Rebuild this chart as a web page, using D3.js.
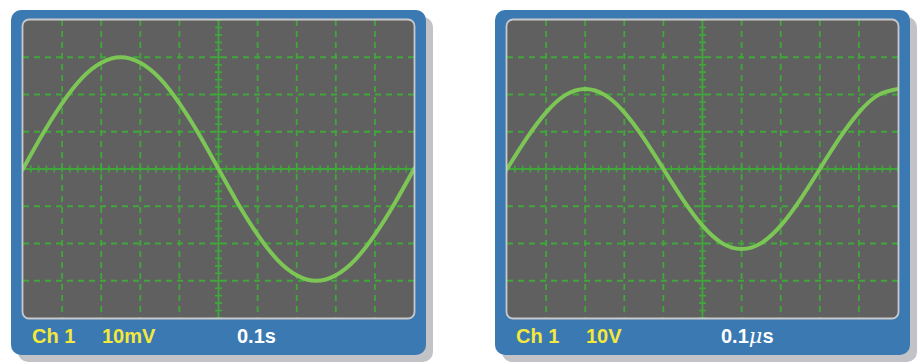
<!DOCTYPE html>
<html><head><meta charset="utf-8">
<script src="https://cdn.jsdelivr.net/npm/d3@7"></script>
<style>html,body{margin:0;padding:0;background:#fff;}svg{display:block;}</style>
</head><body>
<svg id="c" width="918" height="364"></svg>
<script>
// ---- data ----
const xDivisions = [0,1,2,3,4,5,6,7,8,9,10];
const yDivisions = [-4,-3,-2,-1,0,1,2,3,4];
const sampleX = [0,0.5,1,1.5,2,2.5,3,3.5,4,4.5,5,5.5,6,6.5,7,7.5,8,8.5,9,9.5,10];
const leftWave = [0,0.93,1.76,2.43,2.85,3.00,2.85,2.43,1.76,0.93,0,-0.93,-1.76,-2.43,-2.85,-3.00,-2.85,-2.43,-1.76,-0.93,0];
const rightWave = [0,0.82,1.52,1.99,2.15,1.99,1.52,0.82,0,-0.82,-1.52,-1.99,-2.15,-1.99,-1.52,-0.82,0,0.82,1.52,1.99,2.15];
const channelLabels = ["Ch 1","Ch 1"];
const voltLabels = ["10mV","10V"];
const timeLabels = [["0.1","","s"],["0.1","\u03BC","s"]];

// ---- layout ----
const svg = d3.select("#c");
const panelW = 415, panelH = 345, scrX = 12, scrY = 10, scrW = 391, scrH = 298;
const panels = [
  {x:11, y:10, wave:leftWave, ch:channelLabels[0], v:voltLabels[0], t:timeLabels[0]},
  {x:495, y:10, wave:rightWave, ch:channelLabels[1], v:voltLabels[1], t:timeLabels[1]}
];
const x = d3.scaleLinear().domain([0,10]).range([0,scrW]);
const y = d3.scaleLinear().domain([-4,4]).range([scrH,0]);
const gridColor = "#40a83a";
const tickStep = 0.2;
const minorX = d3.range(0, 10.001, tickStep);
const minorY = d3.range(-4, 4.001, tickStep);

panels.forEach((p,i)=>{
  const g = svg.append("g").attr("transform",`translate(${p.x},${p.y})`);
  g.append("rect").attr("x",7).attr("y",7).attr("width",panelW).attr("height",panelH)
    .attr("rx",10).attr("fill","#c2c3c7");
  g.append("rect").attr("width",panelW).attr("height",panelH).attr("rx",10).attr("fill","#3a79b1");
  const s = g.append("g").attr("transform",`translate(${scrX},${scrY})`);
  const cid = "clip"+i;
  s.append("clipPath").attr("id",cid).append("rect").attr("width",scrW).attr("height",scrH).attr("rx",6);
  s.append("rect").attr("width",scrW).attr("height",scrH).attr("rx",6).attr("fill","#606060");
  const inner = s.append("g").attr("clip-path",`url(#${cid})`);
  inner.selectAll(".vg").data(xDivisions.filter(d=>d!==5 && d!==0 && d!==10)).enter().append("line")
    .attr("x1",d=>x(d)).attr("x2",d=>x(d)).attr("y1",0).attr("y2",scrH)
    .attr("stroke",gridColor).attr("stroke-width",1.8).attr("stroke-dasharray","6,5");
  inner.selectAll(".hg").data(yDivisions.filter(d=>d!==0 && Math.abs(d)!==4)).enter().append("line")
    .attr("y1",d=>y(d)).attr("y2",d=>y(d)).attr("x1",0).attr("x2",scrW)
    .attr("stroke",gridColor).attr("stroke-width",1.8).attr("stroke-dasharray","6,5");
  inner.append("line").attr("x1",x(5)).attr("x2",x(5)).attr("y1",0).attr("y2",scrH)
    .attr("stroke",gridColor).attr("stroke-width",1.8);
  inner.append("line").attr("y1",y(0)).attr("y2",y(0)).attr("x1",0).attr("x2",scrW)
    .attr("stroke",gridColor).attr("stroke-width",1.8);
  inner.selectAll(".tx").data(minorX).enter().append("line")
    .attr("x1",d=>x(d)).attr("x2",d=>x(d)).attr("y1",y(0)-3.5).attr("y2",y(0)+3.5)
    .attr("stroke",gridColor).attr("stroke-width",1.6);
  inner.selectAll(".ty").data(minorY).enter().append("line")
    .attr("y1",d=>y(d)).attr("y2",d=>y(d)).attr("x1",x(5)-3.5).attr("x2",x(5)+3.5)
    .attr("stroke",gridColor).attr("stroke-width",1.6);
  const pts = sampleX.map((sx,k)=>[sx,p.wave[k]]);
  const line = d3.line().x(d=>x(d[0])).y(d=>y(d[1])).curve(d3.curveNatural);
  inner.append("path").attr("d",line(pts)).attr("fill","none")
    .attr("stroke","#7cc655").attr("stroke-width",4).attr("stroke-linecap","round");
  s.append("rect").attr("x",-0.5).attr("y",-0.5).attr("width",scrW+1).attr("height",scrH+1).attr("rx",6.5)
    .attr("fill","none").attr("stroke","#c9c9cb").attr("stroke-width",1.8);
  const ty = 333;
  const font = "'Liberation Sans', Arial, sans-serif";
  g.append("text").attr("x",21).attr("y",ty).text(p.ch)
    .attr("font-family",font).attr("font-weight","bold").attr("font-size",20).attr("fill","#f4e83c");
  g.append("text").attr("x",91).attr("y",ty).text(p.v)
    .attr("font-family",font).attr("font-weight","bold").attr("font-size",20).attr("fill","#f4e83c");
  const tt = g.append("text").attr("x",226).attr("y",ty)
    .attr("font-family",font).attr("font-weight","bold").attr("font-size",20).attr("fill","#ffffff");
  tt.append("tspan").text(p.t[0]);
  if (p.t[1]) tt.append("tspan").text(p.t[1]).attr("font-style","italic").attr("font-family","'DejaVu Serif', serif").attr("font-weight","normal").attr("font-size",21);
  tt.append("tspan").text(p.t[2]);
});
</script>
</body></html>
